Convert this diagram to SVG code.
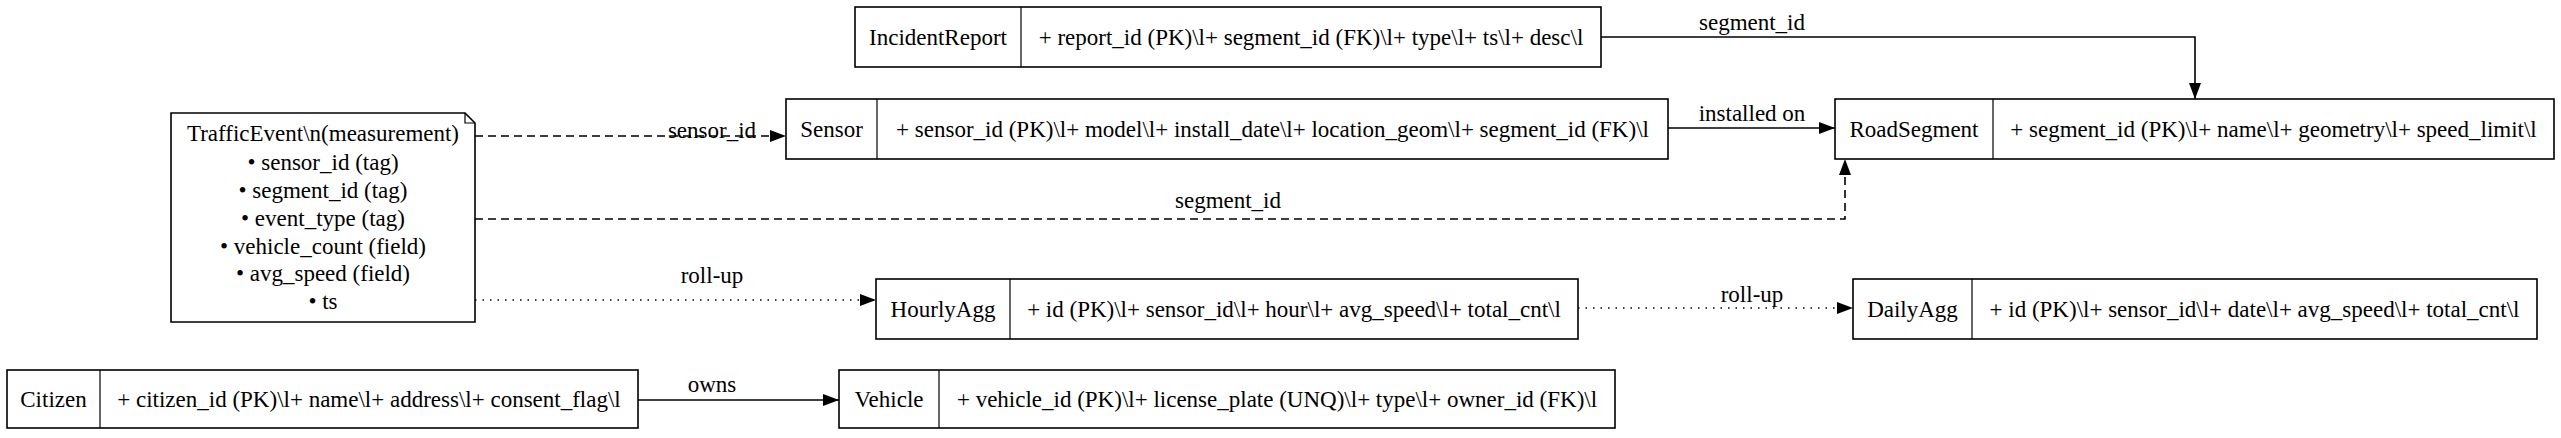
<svg xmlns="http://www.w3.org/2000/svg" width="2561" height="438" viewBox="0 0 2561 438">
<defs>
<marker id="ah" viewBox="0 0 16 12" refX="16" refY="6" markerWidth="16" markerHeight="12" markerUnits="userSpaceOnUse" orient="auto"><path d="M0,0 L16,6 L0,12 Z" fill="#000"/></marker>
<style>
text{font-family:"Liberation Serif","Times New Roman",serif;font-size:23px;fill:#000;text-anchor:middle}
.b{fill:#fff;stroke:#000;stroke-width:1.6}
.d{stroke:#000;stroke-width:1.2}
.e{fill:none;stroke:#000;stroke-width:1.6;marker-end:url(#ah)}
.dash{stroke-dasharray:8,5}
.dot{stroke-dasharray:1.5,6}
</style>
</defs>
<rect width="2561" height="438" fill="#fff"/>
<g id="connectors">
<path class="e" d="M1601,37 H2195 V99"/>
<text x="1752" y="30">segment_id</text>
<path class="e" d="M1668,128 H1835"/>
<text x="1752" y="121">installed on</text>
<path class="e dash" d="M475,136 H786"/>
<text x="712" y="138">sensor_id</text>
<path class="e dash" d="M475,219 H1845 V159"/>
<text x="1228" y="208">segment_id</text>
<path class="e dot" d="M475,300 H876"/>
<text x="712" y="283">roll-up</text>
<path class="e dot" d="M1578,308 H1853"/>
<text x="1752" y="302">roll-up</text>
<path class="e" d="M638,400 H839"/>
<text x="712" y="392">owns</text>
</g>
<g id="IncidentReport">
<rect class="b" x="855" y="7" width="746" height="60"/><line class="d" x1="1021" y1="7" x2="1021" y2="67"/>
<text x="938" y="45">IncidentReport</text>
<text x="1311" y="45">+ report_id (PK)\l+ segment_id (FK)\l+ type\l+ ts\l+ desc\l</text>
</g>
<g id="Sensor">
<rect class="b" x="786" y="99" width="882" height="60"/><line class="d" x1="877" y1="99" x2="877" y2="159"/>
<text x="831.5" y="137">Sensor</text>
<text x="1272.5" y="137">+ sensor_id (PK)\l+ model\l+ install_date\l+ location_geom\l+ segment_id (FK)\l</text>
</g>
<g id="RoadSegment">
<rect class="b" x="1835" y="99" width="719" height="60"/><line class="d" x1="1993" y1="99" x2="1993" y2="159"/>
<text x="1914" y="137">RoadSegment</text>
<text x="2273.5" y="137">+ segment_id (PK)\l+ name\l+ geometry\l+ speed_limit\l</text>
</g>
<g id="TrafficEvent">
<path class="b" d="M171,113 H465 L475,123 V322 H171 Z"/>
<path class="d" fill="none" d="M465,113 V123 H475"/>
<text x="323" y="141">TrafficEvent\n(measurement)</text>
<text x="323" y="170">• sensor_id (tag)</text>
<text x="323" y="198">• segment_id (tag)</text>
<text x="323" y="226">• event_type (tag)</text>
<text x="323" y="254">• vehicle_count (field)</text>
<text x="323" y="281">• avg_speed (field)</text>
<text x="323" y="309">• ts</text>
</g>
<g id="HourlyAgg">
<rect class="b" x="876" y="279" width="702" height="60"/><line class="d" x1="1010" y1="279" x2="1010" y2="339"/>
<text x="943" y="317">HourlyAgg</text>
<text x="1294" y="317">+ id (PK)\l+ sensor_id\l+ hour\l+ avg_speed\l+ total_cnt\l</text>
</g>
<g id="DailyAgg">
<rect class="b" x="1853" y="279" width="684" height="60"/><line class="d" x1="1972" y1="279" x2="1972" y2="339"/>
<text x="1912.5" y="317">DailyAgg</text>
<text x="2254.5" y="317">+ id (PK)\l+ sensor_id\l+ date\l+ avg_speed\l+ total_cnt\l</text>
</g>
<g id="Citizen">
<rect class="b" x="7" y="370" width="631" height="58"/><line class="d" x1="100" y1="370" x2="100" y2="428"/>
<text x="53.5" y="407">Citizen</text>
<text x="369" y="407">+ citizen_id (PK)\l+ name\l+ address\l+ consent_flag\l</text>
</g>
<g id="Vehicle">
<rect class="b" x="839" y="370" width="776" height="58"/><line class="d" x1="939" y1="370" x2="939" y2="428"/>
<text x="889" y="407">Vehicle</text>
<text x="1277" y="407">+ vehicle_id (PK)\l+ license_plate (UNQ)\l+ type\l+ owner_id (FK)\l</text>
</g>
</svg>
